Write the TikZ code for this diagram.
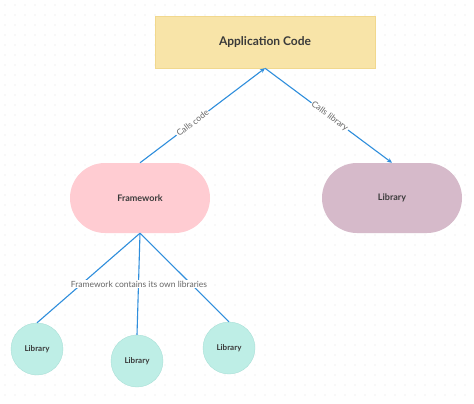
\documentclass[tikz,border=0pt]{standalone}
\usepackage{fontspec}
\setmainfont{Lato}
\usetikzlibrary{arrows.meta}
\definecolor{appfill}{HTML}{F8E4A8}
\definecolor{appdraw}{HTML}{F1D88E}
\definecolor{fwfill}{HTML}{FFCCD2}
\definecolor{libfill}{HTML}{D6BACA}
\definecolor{circfill}{HTML}{BEEEE6}
\definecolor{circdraw}{HTML}{A9E0D7}
\definecolor{edgeblue}{HTML}{2F8EDC}
\definecolor{txtdark}{HTML}{3A3A3A}
\definecolor{lbl}{HTML}{666666}
\definecolor{dotc}{HTML}{E2E2E2}
\tikzset{
  appbox/.style={draw=appdraw, fill=appfill, minimum width=220pt, minimum height=52pt, font=\fontsize{12}{14}\selectfont\bfseries, text=txtdark},
  pill/.style={rounded corners=35pt, minimum width=140pt, minimum height=70pt, font=\fontsize{9}{11}\selectfont\bfseries, text=txtdark},
  libcirc/.style={circle, draw=circdraw, fill=circfill, minimum size=52pt, inner sep=0pt, font=\fontsize{8}{10}\selectfont\bfseries, text=txtdark},
  conn/.style={draw=edgeblue, line width=1.1pt},
  arr/.style={conn, -{Stealth[length=5pt,width=4.5pt]}},
  elabel/.style={fill=white, inner sep=1pt, text=lbl, font=\fontsize{8.5}{10}\selectfont},
}
\begin{document}
\begin{tikzpicture}[x=1pt,y=-1pt]
\useasboundingbox (0,0) rectangle (474,404);
\fill[white] (0,0) rectangle (474,404);
\foreach \i in {0,...,46} {
  \foreach \j in {0,...,39} {
    \fill[dotc] (5+\i*10, 5+\j*10) circle (0.55);
  }
}
\node[appbox] (app) at (265,42) {Application Code};
\node[pill, fill=fwfill] (fw) at (140,198) {Framework};
\node[pill, fill=libfill] (lib) at (392,198) {Library};
\node[libcirc] (l1) at (37,349) {Library};
\node[libcirc] (l2) at (137,361) {Library};
\node[libcirc] (l3) at (229,348) {Library};
\draw[arr] (fw.north) -- node[elabel, sloped, pos=0.42] {Calls code} (app.south);
\draw[arr] (app.south) -- node[elabel, sloped, pos=0.51] {Calls library} (lib.north);
\draw[conn] (fw.south) -- (l1.north);
\draw[conn] (fw.south) -- (l2.north);
\draw[conn] (fw.south) -- (l3.north);
\node[elabel] (fwlabel) at (139,284) {Framework contains its own libraries};
\end{tikzpicture}
\end{document}
